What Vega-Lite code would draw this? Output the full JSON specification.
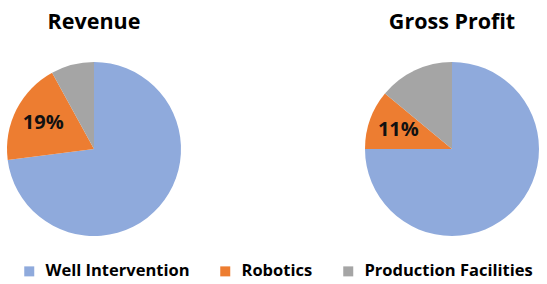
{
  "$schema": "https://vega.github.io/schema/vega-lite/v6.json",
  "background": "white",
  "padding": {"left": 4, "top": 11, "right": 0, "bottom": 0},
  "config": {
    "view": {"stroke": null},
    "font": "Open Sans",
    "title": {"fontSize": 21.5, "fontWeight": "bold", "color": "#000000", "font": "Open Sans", "offset": 28, "anchor": "middle"},
    "legend": {
      "orient": "bottom",
      "direction": "horizontal",
      "title": null,
      "symbolType": "square",
      "symbolSize": 100,
      "symbolStrokeWidth": 0,
      "labelFontSize": 16.5,
      "labelFontWeight": "bold",
      "labelFont": "Open Sans",
      "labelColor": "#000000",
      "labelOffset": 8,
      "labelLimit": 300,
      "columnPadding": 27,
      "padding": 17,
      "offset": 9
    }
  },
  "datasets": {
    "d": [
      {"chart": "Revenue", "segment": "Well Intervention", "ord": 1, "value": 73, "label": ""},
      {"chart": "Revenue", "segment": "Robotics", "ord": 2, "value": 19, "label": "19%"},
      {"chart": "Revenue", "segment": "Production Facilities", "ord": 3, "value": 8, "label": ""},
      {"chart": "Gross Profit", "segment": "Well Intervention", "ord": 1, "value": 75, "label": ""},
      {"chart": "Gross Profit", "segment": "Robotics", "ord": 2, "value": 11, "label": "11%"},
      {"chart": "Gross Profit", "segment": "Production Facilities", "ord": 3, "value": 14, "label": ""}
    ]
  },
  "spacing": 178,
  "hconcat": [
    {
      "title": "Revenue",
      "width": 180,
      "height": 176,
      "data": {"name": "d"},
      "transform": [{"filter": "datum.chart === 'Revenue'"}],
      "encoding": {
        "theta": {"field": "value", "type": "quantitative", "stack": true},
        "order": {"field": "ord", "type": "quantitative"}
      },
      "layer": [
        {
          "mark": {"type": "arc", "outerRadius": 87},
          "encoding": {
            "color": {
              "field": "segment", "type": "nominal",
              "scale": {"domain": ["Well Intervention", "Robotics", "Production Facilities"], "range": ["#8FAADC", "#ED7D31", "#A5A5A5"]},
              "sort": ["Well Intervention", "Robotics", "Production Facilities"]
            }
          }
        },
        {
          "mark": {"type": "text", "radius": 57, "fontSize": 20, "fontWeight": "bold", "font": "Open Sans", "color": "#111111"},
          "encoding": {"text": {"field": "label", "type": "nominal"}}
        }
      ]
    },
    {
      "title": "Gross Profit",
      "width": 180,
      "height": 176,
      "data": {"name": "d"},
      "transform": [{"filter": "datum.chart === 'Gross Profit'"}],
      "encoding": {
        "theta": {"field": "value", "type": "quantitative", "stack": true},
        "order": {"field": "ord", "type": "quantitative"}
      },
      "layer": [
        {
          "mark": {"type": "arc", "outerRadius": 87},
          "encoding": {
            "color": {
              "field": "segment", "type": "nominal",
              "scale": {"domain": ["Well Intervention", "Robotics", "Production Facilities"], "range": ["#8FAADC", "#ED7D31", "#A5A5A5"]},
              "sort": ["Well Intervention", "Robotics", "Production Facilities"]
            }
          }
        },
        {
          "mark": {"type": "text", "radius": 57, "fontSize": 20, "fontWeight": "bold", "font": "Open Sans", "color": "#111111"},
          "encoding": {"text": {"field": "label", "type": "nominal"}}
        }
      ]
    }
  ]
}
